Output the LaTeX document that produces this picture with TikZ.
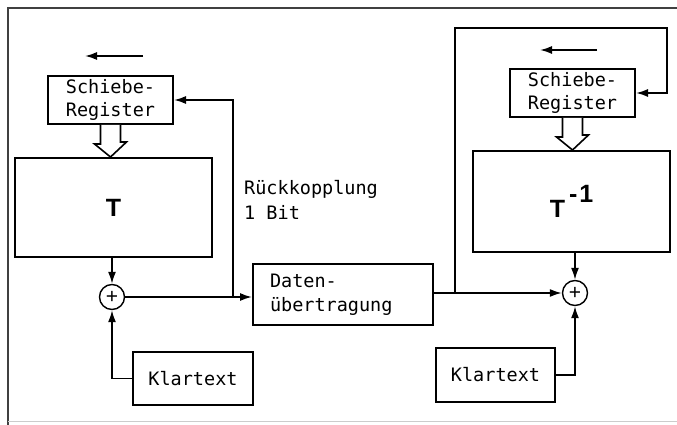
\documentclass[tikz,border=0pt]{standalone}
\usepackage{fontspec}
\setsansfont{Liberation Sans}
\newfontfamily\ocr{DejaVu Sans Mono}
\usetikzlibrary{arrows.meta,calc}

\tikzset{
    box/.style={draw, line width=2pt, inner sep=0pt, align=center,
        font=\ocr\fontsize{18.5}{23.5}\selectfont},
    sumnode/.style={draw, circle, line width=1.4pt, minimum size=25pt, inner sep=0pt,
        font=\sffamily\fontsize{21}{21}\selectfont},
    wire/.style={line width=1.7pt},
    arr/.style={wire, -{Latex[length=12pt,width=8pt]}},
    hollow/.style={line width=1.6pt, fill=white},
}

\begin{document}
\begin{tikzpicture}[x=1pt,y=-1pt]

    \useasboundingbox (0,0) rectangle (677,425);

    % Frame
    \draw[line width=1.4pt, black!75] (8,425) -- (8,8) -- (677,8);
    \draw[line width=0.8pt, black!20] (8,421) -- (677,421);

    % Sender side
    \node[box, minimum width=125pt, minimum height=48pt] (regL) at (110.5,100) {Schiebe-\\Register};
    \node[box, minimum width=197pt, minimum height=99pt] (TL) at (113.5,207.5)
        {\sffamily\bfseries\fontsize{25}{25}\selectfont T};
    \node[sumnode] (sumL) at (112,297) {+};
    \node[box, minimum width=120pt, minimum height=53pt] (klarL) at (193,378.5) {Klartext};

    % Transmission
    \node[box, minimum height=61pt, text width=146pt, inner xsep=17pt, align=left] (daten) at (343,294.5)
        {Daten-\\übertragung};
    \node[anchor=north west, align=left, inner sep=0pt,
        font=\ocr\fontsize{18.5}{25}\selectfont] (rueck) at (244,180) {Rückkopplung\\1 Bit};

    % Receiver side
    \node[box, minimum width=125pt, minimum height=48pt] (regR) at (572.5,93) {Schiebe-\\Register};
    \node[box, minimum width=197pt, minimum height=101pt] (TR) at (571.5,201.5)
        {\sffamily\bfseries\fontsize{25}{25}\selectfont T\hspace{4pt}\raisebox{15pt}{-\hspace{2pt}1}};
    \node[sumnode] (sumR) at (575,293) {+};
    \node[box, minimum width=119pt, minimum height=54pt] (klarR) at (495.5,375) {Klartext};

    % Shift direction
    \coordinate (shLa) at (143,56);
    \coordinate (shLb) at (85,56);
    \coordinate (shRa) at (597,50);
    \coordinate (shRb) at (540,50);
    \draw[arr] (shLa) -- (shLb);
    \draw[arr] (shRa) -- (shRb);

    % Hollow arrows register -> T
    \foreach \r/\t in {regL/TL, regR/TR}
    {
        \path (\r.south) coordinate (top) (\t.north) coordinate (tip);
        \draw[hollow] (top) ++(-10,0) -- ++(0,19) -- ++(-6,0)
            -- (tip -| top) -- ($(tip -| top)+(16,-15)$) -- ++(-6,0) -- ($(top)+(10,0)$);
    }

    % Sender connections
    \draw[arr] (TL.south -| sumL) -- (sumL.north);
    \draw[arr] (klarL.west) -| (sumL.south);
    \draw[arr] (sumL.east) -- (daten.west |- sumL);
    \coordinate (tapL) at (233,297);
    \draw[arr] (tapL) |- (regL.east);

    % Receiver connections
    \draw[arr] (daten.east |- sumR) -- (sumR.west);
    \draw[arr] (TR.south -| sumR) -- (sumR.north);
    \draw[arr] (klarR.east) -| (sumR.south);
    \coordinate (tapR) at (455,293);
    \coordinate (topR) at (667,28);
    \draw[arr] (tapR) |- (topR) |- (regR.east);

\end{tikzpicture}
\end{document}
